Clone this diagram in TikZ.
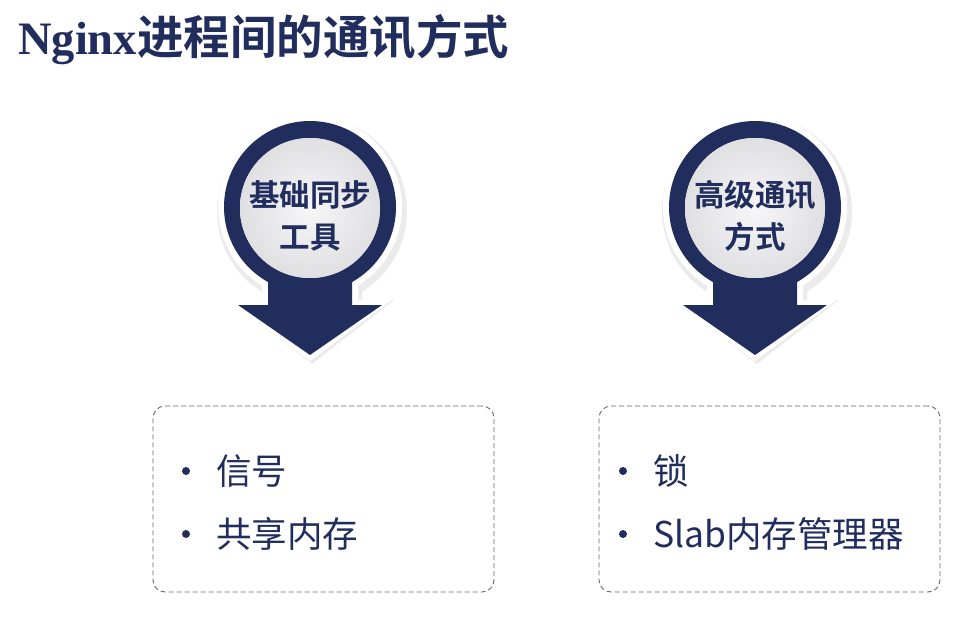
\documentclass[tikz,border=0pt]{standalone}
\usepackage{fontspec}
\newfontfamily\cjk{Noto Sans CJK SC}
\newfontfamily\cjkbold{Noto Sans CJK SC Bold}
\newfontfamily\serifbold{Liberation Serif Bold}
\definecolor{navy}{RGB}{33,45,92}
\definecolor{discgray}{RGB}{238,238,241}
\definecolor{boxgray}{RGB}{100,103,118}

\begin{document}
\begin{tikzpicture}
  [x=1pt,y=-1pt,
  disc/.style={circle,fill=discgray,minimum size=140pt,inner sep=0pt},
  pinlabel/.style={align=center,text=navy,font=\cjkbold\fontsize{30.5}{42}\selectfont},
  listbox/.style={draw=boxgray,dash pattern=on 5pt off 3pt,rounded corners=12pt,minimum width=341pt,minimum height=186pt,line width=0.9pt},
  item/.style={anchor=west,text=navy,font=\cjk\fontsize{35.5}{40}\selectfont,inner sep=0pt},
  dot/.style={circle,fill=navy,minimum size=8pt,inner sep=0pt}]

  \useasboundingbox (0,0) rectangle (972,623);

  \node (title) [anchor=base west,text=navy,inner sep=0pt] at (18,55)
    {{\serifbold\fontsize{46.5}{50}\selectfont Nginx}{\cjkbold\fontsize{46.5}{50}\selectfont 进程间的通讯方式}};

  % pins
  \foreach \x/\name/\txt in {310/basic/{基础同步\\工具},755/adv/{高级通讯\\方式}} {
    \fill[black!8] (\x+2,211) circle (95pt);
    \fill[black!8] (\x-48,255) -- (\x+52,255) -- (\x+52,300) -- (\x+84,300) -- (\x+2,364) -- (\x-80,300) -- (\x-48,300) -- cycle;
    \fill[white] (\x,207) circle (92pt);
    \fill[white] (\x-48,255) -- (\x+48,255) -- (\x+48,300) -- (\x+82,300) -- (\x,361) -- (\x-82,300) -- (\x-48,300) -- cycle;
    \fill[navy] (\x,207) circle (86pt);
    \fill[navy] (\x-42,255) -- (\x+42,255) -- (\x+42,305) -- (\x+72,305) -- (\x,355) -- (\x-72,305) -- (\x-42,305) -- cycle;
    \node (\name disc) [disc,shading=radial,inner color=discgray!50!white,outer color=discgray!94!black] at (\x,208) {};
    \node (\name label) [pinlabel] at (\x,216) {\txt};
  }

  % lists
  \node (basicbox) [listbox] at (323.5,499) {};
  \node (advbox) [listbox] at (769.5,499) {};

  \node (dot1) [dot] at (186,471) {};
  \node (signal) [item] at (216,471) {信号};
  \node (dot2) [dot] at (186,534) {};
  \node (shm) [item] at (216,534) {共享内存};

  \node (dot3) [dot] at (623,471) {};
  \node (lock) [item] at (653,471) {锁};
  \node (dot4) [dot] at (623,534) {};
  \node (slab) [item] at (653,534) {Slab内存管理器};

\end{tikzpicture}
\end{document}
